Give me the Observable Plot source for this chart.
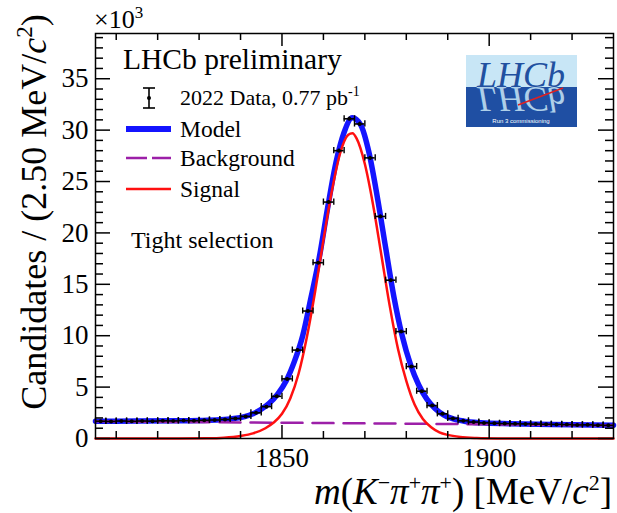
<!DOCTYPE html>
<html><head><meta charset="utf-8">
<script src="https://cdn.jsdelivr.net/npm/d3@7"></script>
<script src="https://cdn.jsdelivr.net/npm/@observablehq/plot@0.6"></script>
<style>
html,body{margin:0;padding:0;background:#fff;}
#chart{width:617px;height:513px;overflow:hidden;}
</style></head><body><div id="chart"></div>
<script>
// ---------- data (values in units of 10^3 candidates) ----------
const binWidth = 2.5;
const binCenters = [1806.25,1808.75,1811.25,1813.75,1816.25,1818.75,1821.25,1823.75,1826.25,1828.75,
  1831.25,1833.75,1836.25,1838.75,1841.25,1843.75,1846.25,1848.75,1851.25,1853.75,
  1856.25,1858.75,1861.25,1863.75,1866.25,1868.75,1871.25,1873.75,1876.25,1878.75,
  1881.25,1883.75,1886.25,1888.75,1891.25,1893.75,1896.25,1898.75,1901.25,1903.75,
  1906.25,1908.75,1911.25,1913.75,1916.25,1918.75,1921.25,1923.75,1926.25,1928.75];
const counts = [1.68,1.66,1.70,1.67,1.70,1.69,1.72,1.71,1.74,1.73,
  1.77,1.80,1.85,1.95,2.15,2.5,3.1,4.1,5.8,8.6,
  12.4,17.1,23.0,28.0,31.1,30.6,27.3,21.6,15.4,10.4,
  7.0,4.6,3.2,2.4,1.95,1.72,1.6,1.52,1.48,1.45,
  1.43,1.42,1.40,1.38,1.37,1.35,1.32,1.33,1.30,1.28];

const modelMass = [1805,1815,1825,1830,1835,1838,1841,1843,1845,1847,1849,1851,1853,1855,1857,1859,1861,1863,1865,1867,
  1869,1871,1873,1875,1877,1879,1881,1883,1885,1887,1889,1891,1894,1898,1905,1915,1930];
const modelValue = [1.68,1.70,1.72,1.75,1.82,1.92,2.12,2.4,2.85,3.45,4.35,5.6,7.5,10.0,13.7,17.6,22.4,26.8,29.8,31.2,
  30.5,27.8,23.5,18.6,13.8,10.0,7.2,5.2,3.8,2.9,2.3,1.95,1.68,1.53,1.44,1.37,1.30];

const signalMass = [1805,1825,1832,1836,1840,1843,1846,1848,1850,1852,1854,1856,1858,1860,1862,1864,1866,1867,1868,1870,
  1872,1874,1876,1878,1880,1882,1884,1886,1888,1890,1893,1897,1902,1910,1930];
const signalValue = [0,0,0.02,0.08,0.25,0.5,1.0,1.55,2.4,3.9,6.3,9.85,14.3,19.3,24.0,27.7,29.55,29.7,29.2,26.7,
  22.7,17.8,12.9,8.7,5.6,3.3,1.9,1.1,0.6,0.35,0.15,0.05,0.01,0,0];

const bgMass = [1805, 1930];
const bgValue = [1.68, 1.28];

const xMajorTicks = [1850, 1900];
const xMinorTicks = [1810,1820,1830,1840,1860,1870,1880,1890,1910,1920];
const yMajorTicks = [0,5,10,15,20,25,30,35];
const yMinorTicks = [1,2,3,4,6,7,8,9,11,12,13,14,16,17,18,19,21,22,23,24,26,27,28,29,31,32,33,34,36,37,38,39];

// ---------- layout ----------
const W = 617, H = 513;
const mL = 95, mR = 4, mT = 33, mB = 75;
const FH = H - mT - mB, FW = W - mL - mR;
const serif = "'Liberation Serif', 'Times New Roman', Times, serif";

const data = binCenters.map((m, i) => ({m, v: counts[i]}));
const model = modelMass.map((m, i) => ({m, v: modelValue[i]}));
const signal = signalMass.map((m, i) => ({m, v: signalValue[i]}));
const background = bgMass.map((m, i) => ({m, v: bgValue[i]}));

const blue = "#1414ff", purple = "#9c1fa8", red = "#ff1010";

const plot = Plot.plot({
  width: W, height: H,
  marginLeft: mL, marginRight: mR, marginTop: mT, marginBottom: mB,
  style: {fontFamily: serif, fontSize: "27px", color: "black", background: "white", overflow: "visible"},
  x: {domain: [1805, 1930], ticks: xMajorTicks, tickSize: 0, tickPadding: 9, label: null, tickFormat: d => String(d)},
  y: {domain: [0, 39.4], ticks: yMajorTicks, tickSize: 0, tickPadding: 7, label: null, tickFormat: d => String(d)},
  marks: [
    Plot.line(model, {x: "m", y: "v", stroke: blue, strokeWidth: 5.5, curve: "monotone-x"}),
    Plot.line(background, {x: "m", y: "v", stroke: purple, strokeWidth: 2.5, strokeDasharray: "21,10"}),
    Plot.line(signal, {x: "m", y: "v", stroke: red, strokeWidth: 2.5, curve: "monotone-x"}),
    Plot.ruleY(data, {x1: d => d.m - binWidth / 2, x2: d => d.m + binWidth / 2, y: "v", stroke: "black", strokeWidth: 1.6}),
    Plot.ruleX(data, {x: d => d.m - binWidth / 2, y1: d => d.v - 0.3, y2: d => d.v + 0.3, stroke: "black", strokeWidth: 1.4}),
    Plot.ruleX(data, {x: d => d.m + binWidth / 2, y1: d => d.v - 0.3, y2: d => d.v + 0.3, stroke: "black", strokeWidth: 1.4}),
    Plot.ruleX(data, {x: "m", y1: d => d.v - Math.sqrt(d.v * 1000) / 1000, y2: d => d.v + Math.sqrt(d.v * 1000) / 1000, stroke: "black", strokeWidth: 1.4}),
    Plot.dot(data, {x: "m", y: "v", r: 2, fill: "black"}),
    // inward ticks on all four sides (ROOT style)
    Plot.ruleX(xMajorTicks, {x: d => d, insetTop: FH - 13, stroke: "black", strokeWidth: 1.5}),
    Plot.ruleX(xMinorTicks, {x: d => d, insetTop: FH - 7, stroke: "black", strokeWidth: 1.5}),
    Plot.ruleX(xMajorTicks, {x: d => d, insetBottom: FH - 13, stroke: "black", strokeWidth: 1.5}),
    Plot.ruleX(xMinorTicks, {x: d => d, insetBottom: FH - 7, stroke: "black", strokeWidth: 1.5}),
    Plot.ruleY(yMajorTicks, {y: d => d, insetRight: FW - 15, stroke: "black", strokeWidth: 1.5}),
    Plot.ruleY(yMinorTicks, {y: d => d, insetRight: FW - 8, stroke: "black", strokeWidth: 1.5}),
    Plot.ruleY(yMajorTicks, {y: d => d, insetLeft: FW - 15, stroke: "black", strokeWidth: 1.5}),
    Plot.ruleY(yMinorTicks, {y: d => d, insetLeft: FW - 8, stroke: "black", strokeWidth: 1.5}),
    Plot.frame({stroke: "black", strokeWidth: 1.5})
  ]
});
document.getElementById("chart").appendChild(plot);

// ---------- annotations ----------
const svg = d3.select(plot);
const g = svg.append("g").attr("font-family", serif).attr("fill", "black").attr("text-anchor", "start");

// multiplier
{
  const t = g.append("text").attr("x", 94).attr("y", 28).attr("font-size", 26);
  t.append("tspan").text("×10");
  t.append("tspan").attr("font-size", 17).attr("dy", -10).text("3");
}

// y axis label
{
  const t = g.append("text").attr("transform", "translate(46,212) rotate(-90)")
    .attr("text-anchor", "middle").attr("font-size", 36);
  t.append("tspan").text("Candidates / (2.50 MeV/");
  t.append("tspan").attr("font-style", "italic").text("c");
  t.append("tspan").attr("font-size", 23).attr("dy", -14).text("2");
  t.append("tspan").attr("dy", 14).text(")");
}

// x axis label
{
  const t = g.append("text").attr("x", 612).attr("y", 504).attr("text-anchor", "end").attr("font-size", 37);
  t.append("tspan").attr("font-style", "italic").text("m");
  t.append("tspan").text("(");
  t.append("tspan").attr("font-style", "italic").text("K");
  t.append("tspan").attr("font-size", 22).attr("dy", -14).text("−");
  t.append("tspan").attr("font-style", "italic").attr("dy", 14).text("π");
  t.append("tspan").attr("font-size", 22).attr("dy", -14).text("+");
  t.append("tspan").attr("font-style", "italic").attr("dy", 14).text("π");
  t.append("tspan").attr("font-size", 22).attr("dy", -14).text("+");
  t.append("tspan").attr("dy", 14).text(") [MeV/");
  t.append("tspan").attr("font-style", "italic").text("c");
  t.append("tspan").attr("font-size", 22).attr("dy", -14).text("2");
  t.append("tspan").attr("dy", 14).text("]");
}

// legend
g.append("text").attr("x", 123).attr("y", 69).attr("font-size", 29.5).text("LHCb preliminary");
g.append("line").attr("x1", 149).attr("x2", 149).attr("y1", 88).attr("y2", 108).attr("stroke", "black").attr("stroke-width", 1.6);
g.append("line").attr("x1", 143).attr("x2", 155).attr("y1", 88).attr("y2", 88).attr("stroke", "black").attr("stroke-width", 1.6);
g.append("line").attr("x1", 143).attr("x2", 155).attr("y1", 108).attr("y2", 108).attr("stroke", "black").attr("stroke-width", 1.6);
g.append("circle").attr("cx", 149).attr("cy", 98).attr("r", 2).attr("fill", "black");
{
  const t = g.append("text").attr("x", 180).attr("y", 105).attr("font-size", 22);
  t.append("tspan").text("2022 Data, 0.77 pb");
  t.append("tspan").attr("font-size", 14).attr("dy", -9).text("-1");
}
g.append("line").attr("x1", 126).attr("x2", 171).attr("y1", 129).attr("y2", 129).attr("stroke", blue).attr("stroke-width", 6);
g.append("text").attr("x", 180).attr("y", 137).attr("font-size", 23.5).text("Model");
g.append("line").attr("x1", 126).attr("x2", 171).attr("y1", 158).attr("y2", 158).attr("stroke", purple).attr("stroke-width", 2.5).attr("stroke-dasharray", "21,5");
g.append("text").attr("x", 180).attr("y", 166).attr("font-size", 23.5).text("Background");
g.append("line").attr("x1", 126).attr("x2", 171).attr("y1", 189).attr("y2", 189).attr("stroke", red).attr("stroke-width", 2.5);
g.append("text").attr("x", 180).attr("y", 197).attr("font-size", 23.5).text("Signal");
g.append("text").attr("x", 131).attr("y", 248).attr("font-size", 24).text("Tight selection");

// LHCb logo
{
  const defs = svg.append("defs");
  defs.append("clipPath").attr("id", "logoBottom").append("rect")
    .attr("x", 466).attr("y", 87).attr("width", 111).attr("height", 40);
  const L = g.append("g");
  L.append("rect").attr("x", 466).attr("y", 55).attr("width", 111).attr("height", 32).attr("fill", "#c8e6f6");
  L.append("rect").attr("x", 466).attr("y", 87).attr("width", 111).attr("height", 40).attr("fill", "#1f4fa3");
  L.append("g").attr("fill", "#2150a0").append("text").attr("id", "lhcbLogoText")
    .attr("x", 521).attr("y", 87).attr("text-anchor", "middle").attr("font-style", "italic")
    .attr("font-size", 36).text("LHCb");
  // mirrored reflection (graphic clone of the logo word)
  L.append("g").attr("clip-path", "url(#logoBottom)").append("use")
    .attr("href", "#lhcbLogoText")
    .attr("transform", "translate(0,174) scale(1,-1)")
    .attr("fill", "#c8e6f6").attr("opacity", 0.85);
  L.append("line").attr("x1", 518).attr("y1", 105).attr("x2", 563).attr("y2", 88).attr("stroke", "#e02020").attr("stroke-width", 1.5);
  L.append("text").attr("x", 521).attr("y", 123).attr("text-anchor", "middle").attr("font-size", 6)
    .attr("fill", "white").attr("font-family", "'Liberation Sans', sans-serif").text("Run 3 commissioning");
}
</script>
</body></html>
